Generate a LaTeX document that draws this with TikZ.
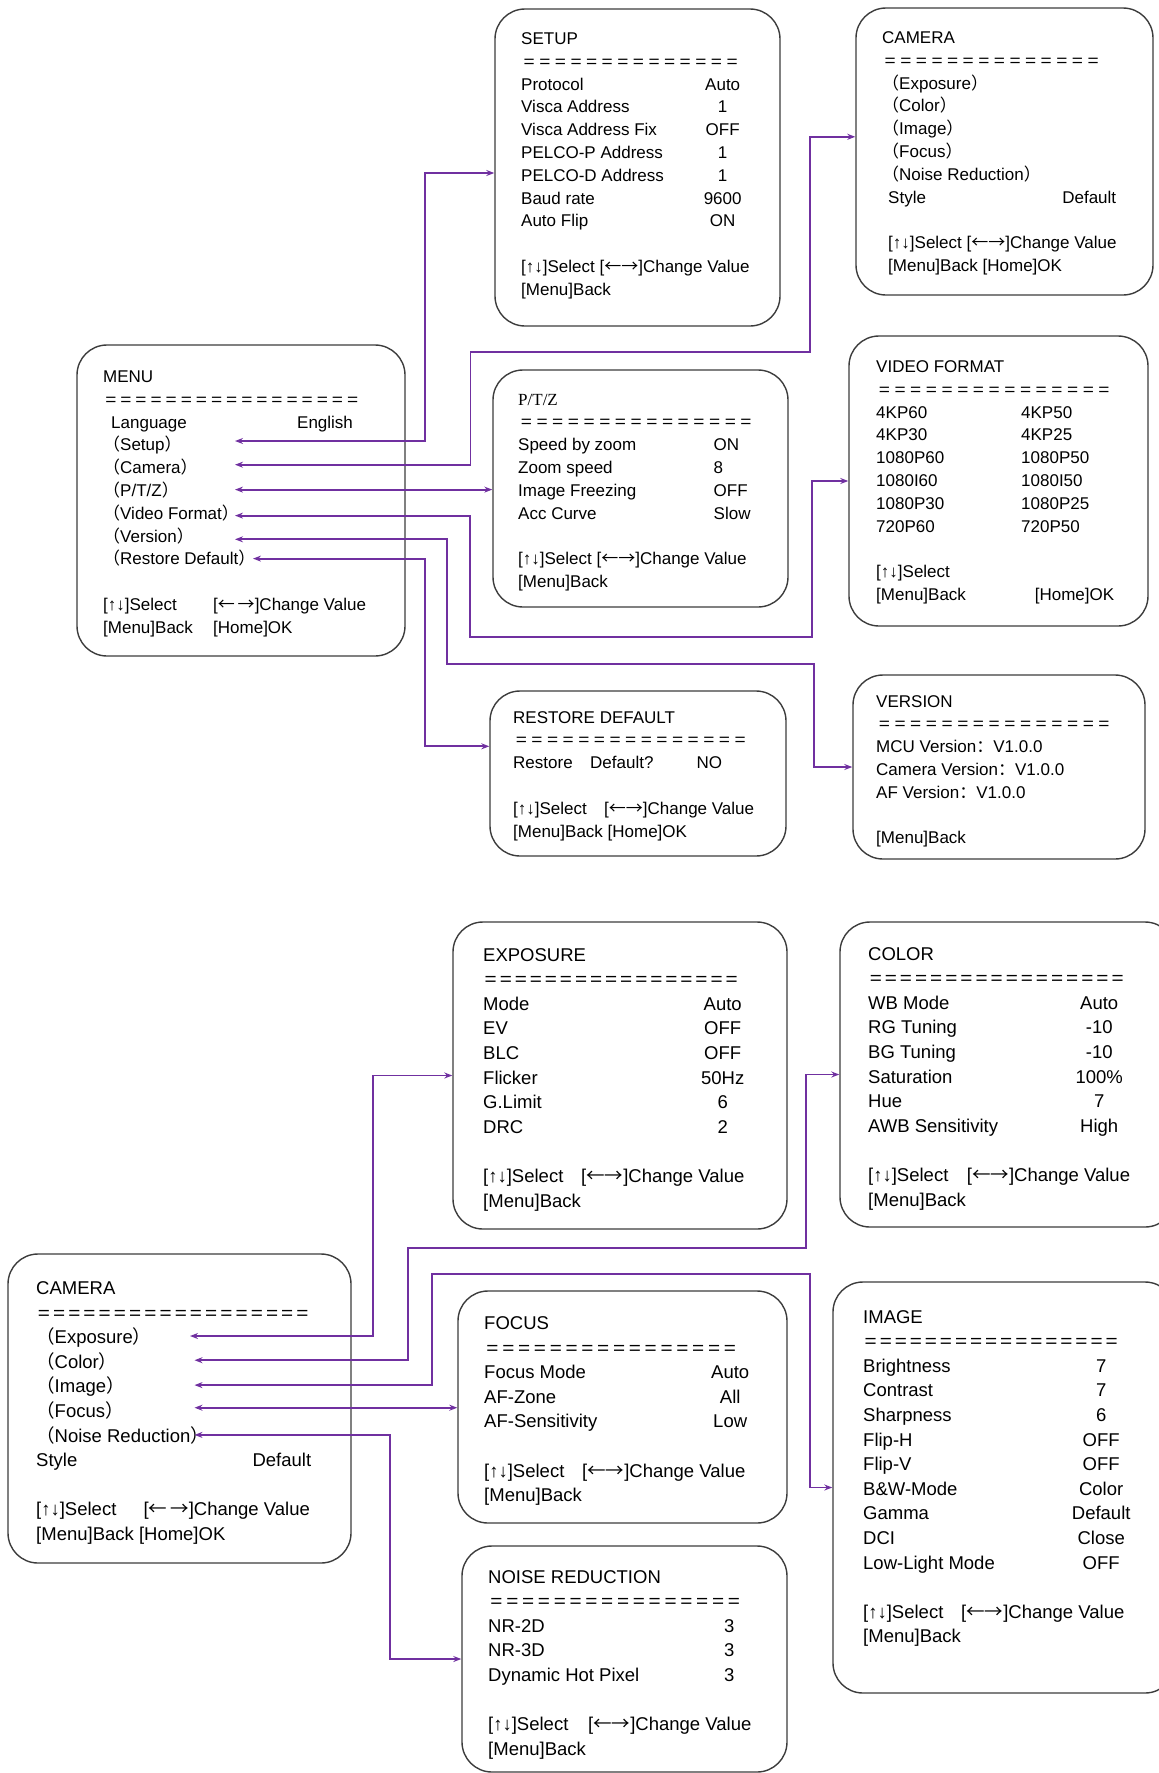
\documentclass[tikz,border=0pt]{standalone}
\usepackage{fontspec}
\usepackage{graphicx}
\setmainfont{Liberation Sans}
\newfontfamily\cjk{Noto Sans CJK SC}
\newfontfamily\ptzfont{Liberation Serif}
\usetikzlibrary{arrows.meta}

\definecolor{linkpurple}{RGB}{112,48,160}
\definecolor{boxgray}{RGB}{60,60,60}

\newcommand\fwl{{\cjk （}}
\newcommand\fwr{{\cjk ）}}
\newcommand\fwc{{\cjk ：}}
\newcommand\kl{{\cjk ←}}
\newcommand\kr{{\cjk →}}
\newcommand\eqline[1]{\makebox[#1pt][l]{\xleaders\hbox to 15pt{\hss\scalebox{1.12}[1]{=}\hss}\hfill}}
\newcommand\lrow[3]{\makebox[#1pt][l]{#2}#3}
\newcommand\crow[3]{\makebox[#1pt][l]{#2}\makebox[40pt]{#3}}

\begin{document}
\begin{tikzpicture}[
			x=1pt, y=-1pt,
			box/.style={
				draw=boxgray,
				line width=1.4pt,
				rounded corners=30pt,
				inner sep=0pt
			},
			toptxt/.style={anchor=base west, inner sep=0pt, font=\fontsize{17}{22.8}\selectfont},
			bottxt/.style={anchor=base west, inner sep=0pt, font=\fontsize{18.5}{24.6}\selectfont},
			link/.style={{Stealth[length=8pt, width=6pt]}-{Stealth[length=8pt, width=6pt]}, draw=linkpurple, line width=1.8pt}
			]
			
			\useasboundingbox (0,0) rectangle (1159,1773);
			
			\node[box, minimum width=328pt, minimum height=311pt] (menu) at (241,500.5) {};
			\node[toptxt] (menu-txt) at (103,382.5) {\begin{tabular}[t]{@{}l@{}}
				MENU\\
				\eqline{257}\\
				\hspace*{8pt}\lrow{186}{Language}{English}\\
				\fwl Setup\fwr\\
				\fwl Camera\fwr\\
				\fwl P/T/Z\fwr\\
				\fwl Video Format\fwr\\
				\fwl Version\fwr\\
				\fwl Restore Default\fwr\\
				\\
				\lrow{110}{[↑↓]Select}{[\kl\,\kr]Change Value}\\
				\lrow{110}{[Menu]Back}{[Home]OK}
			\end{tabular}};
			
			\node[box, minimum width=285pt, minimum height=317pt] (setup) at (637.5,167.5) {};
			\node[toptxt] (setup-txt) at (521,44.5) {\begin{tabular}[t]{@{}l@{}}
				SETUP\\
				\eqline{219}\\
				\crow{181.5}{Protocol}{Auto}\\
				\crow{181.5}{Visca Address}{1}\\
				\crow{181.5}{Visca Address Fix}{OFF}\\
				\crow{181.5}{PELCO-P Address}{1}\\
				\crow{181.5}{PELCO-D Address}{1}\\
				\crow{181.5}{Baud rate}{9600}\\
				\crow{181.5}{Auto Flip}{ON}\\
				\\
				{[}↑↓]Select [\kl\kr]Change Value\\
				{[}Menu]Back
			\end{tabular}};
			
			\node[box, minimum width=297pt, minimum height=287pt] (camtop) at (1004.5,151.5) {};
			\node[toptxt] (camtop-txt) at (882,43.5) {\begin{tabular}[t]{@{}l@{}}
				CAMERA\\
				\eqline{219}\\
				\fwl Exposure\fwr\\
				\fwl Color\fwr\\
				\fwl Image\fwr\\
				\fwl Focus\fwr\\
				\fwl Noise Reduction\fwr\\
				\hspace*{6pt}\makebox[228pt][l]{Style\hfill Default}\\
				\\
				\hspace*{6pt}[↑↓]Select [\kl\kr]Change Value\\
				\hspace*{6pt}[Menu]Back [Home]OK
			\end{tabular}};
			
			\node[box, minimum width=295pt, minimum height=237pt] (ptz) at (640.5,488.5) {};
			\node[toptxt] (ptz-txt) at (518,405) {\begin{tabular}[t]{@{}l@{}}
				{\ptzfont P/T/Z}\\
				\eqline{236}\\
				\lrow{195.5}{Speed by zoom}{ON}\\
				\lrow{195.5}{Zoom speed}{8}\\
				\lrow{195.5}{Image Freezing}{OFF}\\
				\lrow{195.5}{Acc Curve}{Slow}\\
				\\
				{[}↑↓]Select [\kl\kr]Change Value\\
				{[}Menu]Back
			\end{tabular}};
			
			\node[box, minimum width=299pt, minimum height=290pt] (vf) at (998.5,481) {};
			\node[toptxt] (vf-txt) at (876,372.5) {\begin{tabular}[t]{@{}l@{}}
				VIDEO FORMAT\\
				\eqline{236}\\
				\lrow{145}{4KP60}{4KP50}\\
				\lrow{145}{4KP30}{4KP25}\\
				\lrow{145}{1080P60}{1080P50}\\
				\lrow{145}{1080I60}{1080I50}\\
				\lrow{145}{1080P30}{1080P25}\\
				\lrow{145}{720P60}{720P50}\\
				\\
				{[}↑↓]Select\\
				\lrow{158.6}{[Menu]Back}{[Home]OK}
			\end{tabular}};
			
			\node[box, minimum width=296pt, minimum height=165pt] (restore) at (638,773.5) {};
			\node[toptxt] (restore-txt) at (513,723) {\begin{tabular}[t]{@{}l@{}}
				RESTORE DEFAULT\\
				\eqline{235}\\
				\lrow{77}{Restore}{\lrow{106.5}{Default?}{NO}}\\
				\\
				\lrow{91}{[↑↓]Select}{[\kl\kr]Change Value}\\
				{[}Menu]Back [Home]OK
			\end{tabular}};
			
			\node[box, minimum width=292pt, minimum height=184pt] (version) at (999,767) {};
			\node[toptxt] (version-txt) at (876,707) {\begin{tabular}[t]{@{}l@{}}
				VERSION\\
				\eqline{236}\\
				MCU Version\fwc V1.0.0\\
				Camera Version\fwc V1.0.0\\
				AF Version\fwc V1.0.0\\
				\\
				{[}Menu]Back
			\end{tabular}};
			
			\coordinate (m-setup) at (235,441);
			\coordinate (m-camera) at (235,464.7);
			\coordinate (m-ptz) at (235,489.6);
			\coordinate (m-vf) at (235,515.6);
			\coordinate (m-version) at (235,539.3);
			\coordinate (m-restore) at (253,558.6);
			
			\draw[link] (m-setup) -- ++(190,0) |- ([yshift=-5.5pt]setup.west);
			\draw[link] (m-camera) -- ++(235.4,0) |- ++(339.2,-113.1) |- ([yshift=14.7pt]camtop.west);
			\draw[link] (m-ptz) -- (m-ptz -| ptz.west);
			\draw[link] (m-vf) -- ++(235,0) |- ++(341.8,121) |- (vf.west);
			\draw[link] (m-version) -- ++(211.6,0) |- ++(367.4,124.4) |- (version.west);
			\draw[link] (m-restore) -- ++(172,0) |- ([yshift=27.2pt]restore.west);
			
			\node[box, minimum width=343pt, minimum height=309pt] (camb) at (179.5,1408.5) {};
			\node[bottxt] (camb-txt) at (36,1294.5) {\begin{tabular}[t]{@{}l@{}}
				CAMERA\\
				\eqline{274}\\
				\fwl Exposure\fwr\\
				\fwl Color\fwr\\
				\fwl Image\fwr\\
				\fwl Focus\fwr\\
				\fwl Noise Reduction\fwr\\
				\makebox[275pt][l]{Style\hfill Default}\\
				\\
				\lrow{107.4}{[↑↓]Select}{[\kl\,\kr]Change Value}\\
				{[}Menu]Back [Home]OK
			\end{tabular}};
			
			\node[box, minimum width=334pt, minimum height=307pt] (exposure) at (620,1075.5) {};
			\node[bottxt] (exposure-txt) at (483,961) {\begin{tabular}[t]{@{}l@{}}
				EXPOSURE\\
				\eqline{256}\\
				\crow{219.5}{Mode}{Auto}\\
				\crow{219.5}{EV}{OFF}\\
				\crow{219.5}{BLC}{OFF}\\
				\crow{219.5}{Flicker}{50Hz}\\
				\crow{219.5}{G.Limit}{6}\\
				\crow{219.5}{DRC}{2}\\
				\\
				\lrow{98}{[↑↓]Select}{[\kl\kr]Change Value}\\
				{[}Menu]Back
			\end{tabular}};
			
			\node[box, minimum width=335pt, minimum height=305pt] (color) at (1007.5,1074.5) {};
			\node[bottxt] (color-txt) at (868,960) {\begin{tabular}[t]{@{}l@{}}
				COLOR\\
				\eqline{257}\\
				\crow{211}{WB Mode}{Auto}\\
				\crow{211}{RG Tuning}{-10}\\
				\crow{211}{BG Tuning}{-10}\\
				\crow{211}{Saturation}{100\%}\\
				\crow{211}{Hue}{7}\\
				\crow{211}{AWB Sensitivity}{High}\\
				\\
				\lrow{98.7}{[↑↓]Select}{[\kl\kr]Change Value}\\
				{[}Menu]Back
			\end{tabular}};
			
			\node[box, minimum width=329pt, minimum height=232pt] (focus) at (622.5,1407) {};
			\node[bottxt] (focus-txt) at (484,1329.5) {\begin{tabular}[t]{@{}l@{}}
				FOCUS\\
				\eqline{254}\\
				\crow{226}{Focus Mode}{Auto}\\
				\crow{226}{AF-Zone}{All}\\
				\crow{226}{AF-Sensitivity}{Low}\\
				\\
				\lrow{98}{[↑↓]Select}{[\kl\kr]Change Value}\\
				{[}Menu]Back
			\end{tabular}};
			
			\node[box, minimum width=342pt, minimum height=411pt] (image) at (1004,1487.5) {};
			\node[bottxt] (image-txt) at (863,1323) {\begin{tabular}[t]{@{}l@{}}
				IMAGE\\
				\eqline{256}\\
				\crow{218}{Brightness}{7}\\
				\crow{218}{Contrast}{7}\\
				\crow{218}{Sharpness}{6}\\
				\crow{218}{Flip-H}{OFF}\\
				\crow{218}{Flip-V}{OFF}\\
				\crow{218}{B\&W-Mode}{Color}\\
				\crow{218}{Gamma}{Default}\\
				\crow{218}{DCI}{Close}\\
				\crow{218}{Low-Light Mode}{OFF}\\
				\\
				\lrow{98}{[↑↓]Select}{[\kl\kr]Change Value}\\
				{[}Menu]Back
			\end{tabular}};
			
			\node[box, minimum width=325pt, minimum height=226pt] (noise) at (624.5,1659) {};
			\node[bottxt] (noise-txt) at (488,1583) {\begin{tabular}[t]{@{}l@{}}
				NOISE REDUCTION\\
				\eqline{254}\\
				\crow{221}{NR-2D}{3}\\
				\crow{221}{NR-3D}{3}\\
				\crow{221}{Dynamic Hot Pixel}{3}\\
				\\
				\lrow{100}{[↑↓]Select}{[\kl\kr]Change Value}\\
				{[}Menu]Back
			\end{tabular}};
			
			\coordinate (c-exposure) at (190,1336);
			\coordinate (c-color) at (194.5,1360.2);
			\coordinate (c-image) at (194.5,1385.1);
			\coordinate (c-focus) at (194.5,1407.7);
			\coordinate (c-noise) at (194.5,1434.9);
			
			\draw[link] (c-exposure) -- ++(183,0) |- (exposure.west);
			\draw[link] (c-color) -- ++(213.5,0) |- ++(398.2,-111.9) |- (color.west);
			\draw[link] (c-image) -- ++(237.5,0) |- ++(377.6,-110.8) |- (image.west);
			\draw[link] (c-focus) -- (c-focus -| focus.west);
			\draw[link] (c-noise) -- ++(195.5,0) |- (noise.west);
			
		\end{tikzpicture}
\end{document}
